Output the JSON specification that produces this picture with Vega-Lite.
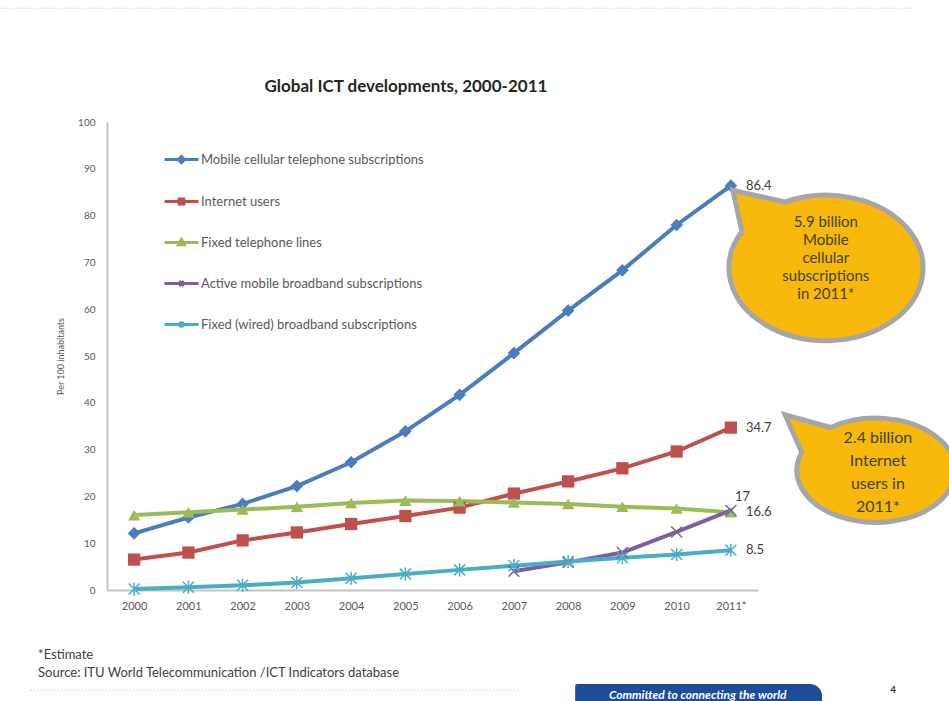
{
  "$schema": "https://vega.github.io/schema/vega-lite/v6.json",
  "width": 651,
  "height": 468,
  "autosize": {"type": "none"},
  "padding": {"left": 107, "top": 122, "right": 191, "bottom": 111},
  "background": "white",
  "config": {"font": "Lato", "view": {"stroke": null}},
  "datasets": {
    "ict": [
      {"year": 2000, "series": "Mobile cellular telephone subscriptions", "value": 12.1},
      {"year": 2001, "series": "Mobile cellular telephone subscriptions", "value": 15.5},
      {"year": 2002, "series": "Mobile cellular telephone subscriptions", "value": 18.4},
      {"year": 2003, "series": "Mobile cellular telephone subscriptions", "value": 22.2},
      {"year": 2004, "series": "Mobile cellular telephone subscriptions", "value": 27.3},
      {"year": 2005, "series": "Mobile cellular telephone subscriptions", "value": 33.9},
      {"year": 2006, "series": "Mobile cellular telephone subscriptions", "value": 41.7},
      {"year": 2007, "series": "Mobile cellular telephone subscriptions", "value": 50.6},
      {"year": 2008, "series": "Mobile cellular telephone subscriptions", "value": 59.7},
      {"year": 2009, "series": "Mobile cellular telephone subscriptions", "value": 68.3},
      {"year": 2010, "series": "Mobile cellular telephone subscriptions", "value": 78.0},
      {"year": 2011, "series": "Mobile cellular telephone subscriptions", "value": 86.4},
      {"year": 2000, "series": "Internet users", "value": 6.5},
      {"year": 2001, "series": "Internet users", "value": 8.0},
      {"year": 2002, "series": "Internet users", "value": 10.6},
      {"year": 2003, "series": "Internet users", "value": 12.3},
      {"year": 2004, "series": "Internet users", "value": 14.1},
      {"year": 2005, "series": "Internet users", "value": 15.8},
      {"year": 2006, "series": "Internet users", "value": 17.6},
      {"year": 2007, "series": "Internet users", "value": 20.6},
      {"year": 2008, "series": "Internet users", "value": 23.2},
      {"year": 2009, "series": "Internet users", "value": 26.0},
      {"year": 2010, "series": "Internet users", "value": 29.6},
      {"year": 2011, "series": "Internet users", "value": 34.7},
      {"year": 2000, "series": "Fixed telephone lines", "value": 16.0},
      {"year": 2001, "series": "Fixed telephone lines", "value": 16.6},
      {"year": 2002, "series": "Fixed telephone lines", "value": 17.2},
      {"year": 2003, "series": "Fixed telephone lines", "value": 17.8},
      {"year": 2004, "series": "Fixed telephone lines", "value": 18.6},
      {"year": 2005, "series": "Fixed telephone lines", "value": 19.1},
      {"year": 2006, "series": "Fixed telephone lines", "value": 19.0},
      {"year": 2007, "series": "Fixed telephone lines", "value": 18.7},
      {"year": 2008, "series": "Fixed telephone lines", "value": 18.4},
      {"year": 2009, "series": "Fixed telephone lines", "value": 17.8},
      {"year": 2010, "series": "Fixed telephone lines", "value": 17.4},
      {"year": 2011, "series": "Fixed telephone lines", "value": 16.6},
      {"year": 2007, "series": "Active mobile broadband subscriptions", "value": 4.0},
      {"year": 2008, "series": "Active mobile broadband subscriptions", "value": 5.9},
      {"year": 2009, "series": "Active mobile broadband subscriptions", "value": 8.0},
      {"year": 2010, "series": "Active mobile broadband subscriptions", "value": 12.4},
      {"year": 2011, "series": "Active mobile broadband subscriptions", "value": 17.0},
      {"year": 2000, "series": "Fixed (wired) broadband subscriptions", "value": 0.2},
      {"year": 2001, "series": "Fixed (wired) broadband subscriptions", "value": 0.6},
      {"year": 2002, "series": "Fixed (wired) broadband subscriptions", "value": 1.0},
      {"year": 2003, "series": "Fixed (wired) broadband subscriptions", "value": 1.6},
      {"year": 2004, "series": "Fixed (wired) broadband subscriptions", "value": 2.5},
      {"year": 2005, "series": "Fixed (wired) broadband subscriptions", "value": 3.4},
      {"year": 2006, "series": "Fixed (wired) broadband subscriptions", "value": 4.3},
      {"year": 2007, "series": "Fixed (wired) broadband subscriptions", "value": 5.2},
      {"year": 2008, "series": "Fixed (wired) broadband subscriptions", "value": 6.1},
      {"year": 2009, "series": "Fixed (wired) broadband subscriptions", "value": 6.9},
      {"year": 2010, "series": "Fixed (wired) broadband subscriptions", "value": 7.6},
      {"year": 2011, "series": "Fixed (wired) broadband subscriptions", "value": 8.5}
    ],
    "rules": [
      {"year": 1997.55, "year2": 2014.35, "value": 124.3},
      {"year": 1998.1, "year2": 2007.1, "value": -21.4}
    ],
    "notes": [
      {"year": 1998.23, "value": -13.9, "label": "*Estimate"},
      {"year": 1998.23, "value": -17.7, "label": "Source:  ITU World Telecommunication /ICT Indicators database"}
    ]
  },
  "layer": [
    {
      "data": {"name": "rules"},
      "mark": {"type": "rule", "color": "#b5b5b5", "strokeDash": [1, 2], "strokeWidth": 1},
      "encoding": {
        "x": {"field": "year", "type": "quantitative"},
        "x2": {"field": "year2"},
        "y": {"field": "value", "type": "quantitative"}
      }
    },
    {
      "data": {"values": [{"year": 2008.13, "year2": 2012.68, "value": -20.1, "value2": -26}]},
      "mark": {"type": "rect", "fill": "#1F4C98", "cornerRadiusTopRight": 12, "cornerRadiusTopLeft": 2},
      "encoding": {
        "x": {"field": "year", "type": "quantitative"},
        "x2": {"field": "year2"},
        "y": {"field": "value", "type": "quantitative"},
        "y2": {"field": "value2"}
      }
    },
    {
      "data": {"name": "ict"},
      "mark": {"type": "line", "strokeWidth": 4},
      "encoding": {
        "x": {
          "field": "year", "type": "quantitative",
          "scale": {"domain": [1999.5, 2011.5], "nice": false, "zero": false},
          "axis": {"values": [2000, 2001, 2002, 2003, 2004, 2005, 2006, 2007, 2008, 2009, 2010, 2011], "format": "d", "labelExpr": "datum.value == 2011 ? '2011*' : datum.label", "title": null, "ticks": false, "grid": false, "domainColor": "#c4c4c4", "domainWidth": 2, "labelPadding": 10, "labelFontSize": 11, "labelColor": "#595959"}
        },
        "y": {
          "field": "value", "type": "quantitative",
          "scale": {"domain": [0, 100], "nice": false},
          "axis": {"values": [0, 10, 20, 30, 40, 50, 60, 70, 80, 90, 100], "title": "Per 100 inhabitants", "titleFontSize": 9, "titleFontWeight": "normal", "titleColor": "#595959", "titlePadding": 12, "ticks": false, "grid": false, "domainColor": "#c4c4c4", "domainWidth": 2, "labelPadding": 12, "labelFontSize": 10, "labelColor": "#595959"}
        },
        "color": {
          "field": "series", "type": "nominal",
          "scale": {
            "domain": ["Mobile cellular telephone subscriptions", "Internet users", "Fixed telephone lines", "Active mobile broadband subscriptions", "Fixed (wired) broadband subscriptions"],
            "range": ["#4A7EBB", "#C0504D", "#9BBB59", "#7D5FA0", "#4BACC6"]
          },
          "legend": {
            "orient": "none", "legendX": 56, "legendY": 19, "title": null, "direction": "vertical",
            "symbolType": "stroke", "symbolSize": 1156, "symbolStrokeWidth": 3,
            "labelFontSize": 13, "labelColor": "#595959", "rowPadding": 14, "labelOffset": 1, "padding": 0, "labelLimit": 400,
            "encode": {
              "symbols": {
                "update": {
                  "shape": {"signal": "datum.value === 'Mobile cellular telephone subscriptions' ? 'M -1 0 L 1 0 M 0 -0.18 L 0.18 0 L 0 0.18 L -0.18 0 Z' : datum.value === 'Internet users' ? 'M -1 0 L 1 0 M -0.14 -0.14 L 0.14 -0.14 L 0.14 0.14 L -0.14 0.14 Z' : datum.value === 'Fixed telephone lines' ? 'M -1 0 L 1 0 M 0 -0.17 L 0.17 0.13 L -0.17 0.13 Z' : datum.value === 'Active mobile broadband subscriptions' ? 'M -1 0 L 1 0 M -0.14 -0.14 L 0.14 0.14 M -0.14 0.14 L 0.14 -0.14' : 'M -1 0 L 1 0 M -0.14 -0.14 L 0.14 0.14 M -0.14 0.14 L 0.14 -0.14 M 0 -0.18 L 0 0.18'"},
                  "fill": {"scale": "color", "field": "value"},
                  "stroke": {"scale": "color", "field": "value"},
                  "strokeWidth": {"value": 3}
                }
              }
            }
          }
        }
      }
    },
    {
      "data": {"name": "ict"},
      "transform": [{"filter": "datum.series == 'Mobile cellular telephone subscriptions'"}],
      "mark": {"type": "point", "filled": true, "size": 160, "shape": "diamond", "opacity": 1},
      "encoding": {
        "x": {"field": "year", "type": "quantitative"},
        "y": {"field": "value", "type": "quantitative"},
        "color": {"field": "series", "type": "nominal"}
      }
    },
    {
      "data": {"name": "ict"},
      "transform": [{"filter": "datum.series == 'Internet users'"}],
      "mark": {"type": "point", "filled": true, "size": 150, "shape": "square", "opacity": 1},
      "encoding": {
        "x": {"field": "year", "type": "quantitative"},
        "y": {"field": "value", "type": "quantitative"},
        "color": {"field": "series", "type": "nominal"}
      }
    },
    {
      "data": {"name": "ict"},
      "transform": [{"filter": "datum.series == 'Fixed telephone lines'"}],
      "mark": {"type": "point", "filled": true, "size": 150, "shape": "triangle-up", "opacity": 1},
      "encoding": {
        "x": {"field": "year", "type": "quantitative"},
        "y": {"field": "value", "type": "quantitative"},
        "color": {"field": "series", "type": "nominal"}
      }
    },
    {
      "data": {"name": "ict"},
      "transform": [{"filter": "datum.series == 'Active mobile broadband subscriptions'"}],
      "mark": {"type": "point", "filled": false, "size": 120, "strokeWidth": 1.5, "shape": "M -1 -1 L 1 1 M -1 1 L 1 -1", "opacity": 1},
      "encoding": {
        "x": {"field": "year", "type": "quantitative"},
        "y": {"field": "value", "type": "quantitative"},
        "color": {"field": "series", "type": "nominal"}
      }
    },
    {
      "data": {"name": "ict"},
      "transform": [{"filter": "datum.series == 'Fixed (wired) broadband subscriptions'"}],
      "mark": {"type": "point", "filled": false, "size": 120, "strokeWidth": 1.5, "shape": "M -1 -1 L 1 1 M -1 1 L 1 -1 M 0 -1.2 L 0 1.2", "opacity": 1},
      "encoding": {
        "x": {"field": "year", "type": "quantitative"},
        "y": {"field": "value", "type": "quantitative"},
        "color": {"field": "series", "type": "nominal"}
      }
    },
    {
      "data": {"name": "ict"},
      "transform": [{"filter": "datum.year == 2011 && datum.series != 'Active mobile broadband subscriptions'"}],
      "mark": {"type": "text", "align": "left", "baseline": "middle", "dx": 15, "fontSize": 13, "color": "#404040"},
      "encoding": {
        "x": {"field": "year", "type": "quantitative"},
        "y": {"field": "value", "type": "quantitative"},
        "text": {"field": "value", "type": "quantitative", "format": ".1f"}
      }
    },
    {
      "data": {"name": "ict"},
      "transform": [{"filter": "datum.year == 2011 && datum.series == 'Active mobile broadband subscriptions'"}],
      "mark": {"type": "text", "align": "left", "baseline": "middle", "dx": 4, "dy": -13, "fontSize": 13, "color": "#404040"},
      "encoding": {
        "x": {"field": "year", "type": "quantitative"},
        "y": {"field": "value", "type": "quantitative"},
        "text": {"field": "value", "type": "quantitative", "format": "d"}
      }
    },
    {
      "data": {"values": [{"year": 2012.753, "value": 68.8}]},
      "mark": {"type": "point", "shape": "M -0.866 -0.375 L -0.96 -0.8 L -0.423 -0.68 A 1 0.75 0 1 1 -0.866 -0.375 Z", "size": 37636, "filled": true, "fill": "#F8B80C", "stroke": "#A6A6A6", "strokeWidth": 5, "opacity": 1},
      "encoding": {
        "x": {"field": "year", "type": "quantitative"},
        "y": {"field": "value", "type": "quantitative"}
      }
    },
    {
      "data": {"values": [{"year": 2013.675, "value": 25.6}]},
      "mark": {"type": "point", "shape": "M -0.94 -0.226 L -1.15 -0.7 L -0.574 -0.54 A 1 0.66 0 1 1 -0.94 -0.226 Z", "size": 24964, "filled": true, "fill": "#F8B80C", "stroke": "#A6A6A6", "strokeWidth": 5, "opacity": 1},
      "encoding": {
        "x": {"field": "year", "type": "quantitative"},
        "y": {"field": "value", "type": "quantitative"}
      }
    },
    {
      "data": {"values": [{"year": 2012.75, "value": 70.9, "label": "5.9 billion\nMobile\ncellular\nsubscriptions\nin 2011*"}]},
      "mark": {"type": "text", "align": "center", "baseline": "middle", "lineBreak": "\n", "lineHeight": 18, "dy": -36, "fontSize": 15, "color": "#3D4415"},
      "encoding": {
        "x": {"field": "year", "type": "quantitative"},
        "y": {"field": "value", "type": "quantitative"},
        "text": {"field": "label"}
      }
    },
    {
      "data": {"values": [{"year": 2013.71, "value": 25.2, "label": "2.4 billion\nInternet\nusers  in\n2011*"}]},
      "mark": {"type": "text", "align": "center", "baseline": "middle", "lineBreak": "\n", "lineHeight": 23, "dy": -34, "fontSize": 16, "color": "#3D4415"},
      "encoding": {
        "x": {"field": "year", "type": "quantitative"},
        "y": {"field": "value", "type": "quantitative"},
        "text": {"field": "label"}
      }
    },
    {
      "data": {"values": [{"year": 2005.01, "value": 107.5, "label": "Global ICT developments, 2000-2011"}]},
      "mark": {"type": "text", "align": "center", "baseline": "middle", "fontSize": 17, "fontWeight": "bold", "color": "#262626"},
      "encoding": {
        "x": {"field": "year", "type": "quantitative"},
        "y": {"field": "value", "type": "quantitative"},
        "text": {"field": "label"}
      }
    },
    {
      "data": {"name": "notes"},
      "mark": {"type": "text", "align": "left", "baseline": "middle", "fontSize": 13, "color": "#404040"},
      "encoding": {
        "x": {"field": "year", "type": "quantitative"},
        "y": {"field": "value", "type": "quantitative"},
        "text": {"field": "label"}
      }
    },
    {
      "data": {"values": [{"year": 2010.39, "value": -22.4, "label": "Committed to connecting the world"}]},
      "mark": {"type": "text", "align": "center", "baseline": "middle", "fontSize": 12, "fontStyle": "italic", "fontWeight": "bold", "color": "#ffffff"},
      "encoding": {
        "x": {"field": "year", "type": "quantitative"},
        "y": {"field": "value", "type": "quantitative"},
        "text": {"field": "label"}
      }
    },
    {
      "data": {"values": [{"year": 2013.99, "value": -21.4, "label": "4"}]},
      "mark": {"type": "text", "align": "center", "baseline": "middle", "fontSize": 10, "fontWeight": "bold", "color": "#333333"},
      "encoding": {
        "x": {"field": "year", "type": "quantitative"},
        "y": {"field": "value", "type": "quantitative"},
        "text": {"field": "label"}
      }
    }
  ]
}
